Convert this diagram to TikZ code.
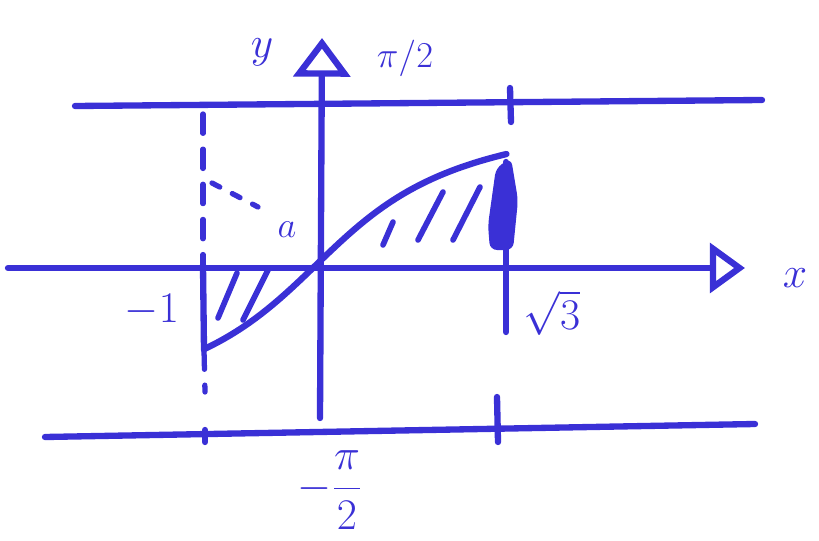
\documentclass[tikz,border=0pt]{standalone}
\usepackage{tikz}
\usetikzlibrary{arrows.meta,positioning}
\definecolor{marker}{RGB}{58,48,214}

\begin{document}
\begin{tikzpicture}[
  x=0.02cm, y=-0.02cm,
  pen/.style={draw=marker, line width=3.6pt, line cap=round, line join=round},
  axis/.style={pen, -{Triangle[open, length=20pt, width=28pt, line width=3.6pt]}},
  yaxis/.style={pen, -{Triangle[open, length=22pt, width=32pt, line width=3.6pt]}},
  dashline/.style={pen, line width=3pt, dash pattern=on 11pt off 9pt},
  dotline/.style={pen, line width=3pt, dash pattern=on 5pt off 8pt},
  hatch/.style={pen, line width=3.2pt},
  lbl/.style={text=marker, font=\fontsize{26}{28}\selectfont, inner sep=1pt},
  small/.style={text=marker, font=\fontsize{20}{22}\selectfont, inner sep=1pt}
]
  \useasboundingbox (0,0) rectangle (819,541);

  % axes
  \coordinate (xl) at (8,268);
  \coordinate (xr) at (745,268);
  \coordinate (yb) at (320,418);
  \coordinate (yt) at (322,38);
  \draw[axis] (xl) -- (xr);
  \draw[yaxis] (yb) -- (yt);

  % asymptotes y = pi/2, y = -pi/2
  \coordinate (tl) at (75,106);
  \coordinate (tr) at (762,100);
  \coordinate (bl) at (45,437);
  \coordinate (br) at (755,424);
  \draw[pen] (tl) -- (tr);
  \draw[pen] (bl) -- (br);

  % ticks
  \draw[pen] (510,88) -- (511,122);
  \draw[pen] (497,397) -- (498,442);
  \draw[pen] (205,430) -- (205,442);

  % x = -1
  \coordinate (mtop) at (203,114);
  \coordinate (max) at (203,265);
  \coordinate (mlo) at (204,350);
  \coordinate (mend) at (205,392);
  \draw[dashline] (mtop) -- (max);
  \draw[pen] (max) -- (mlo);
  \draw[dashline] (mlo) -- (mend);
  \draw[dotline] (212,183) -- (258,207);

  % x = sqrt 3
  \draw[pen] (506,162) -- (506,332);
  \fill[marker, rounded corners=4pt] (496,168) -- (511,158) -- (518,200) -- (513,250) -- (490,250) -- (488,225) -- cycle;

  % arctan curve
  \draw[pen] plot[domain=-1:1.732, samples=50] ({316+110*\x},{265-106*rad(atan(\x))});

  % hatching
  \foreach \a/\b/\c/\d in {218/318/237/273, 243/320/268/270,
                           383/245/393/222, 418/240/443/192, 453/240/480/187}
    \draw[hatch] (\a,\b) -- (\c,\d);

  % labels
  \node[lbl] (ylab) at (262,52) {$y$};
  \node[small] (halfpi) at (405,58) {$\pi/2$};
  \node[small] (alab) at (287,230) {$a$};
  \node[lbl] (mone) at (152,310) {$-1$};
  \node[lbl] (rthree) at (552,313) {$\sqrt{3}$};
  \node[lbl] (xlab) at (795,278) {$x$};
  \node[lbl] (mhalfpi) at (330,490) {$-\displaystyle\frac{\pi}{2}$};
\end{tikzpicture}
\end{document}
